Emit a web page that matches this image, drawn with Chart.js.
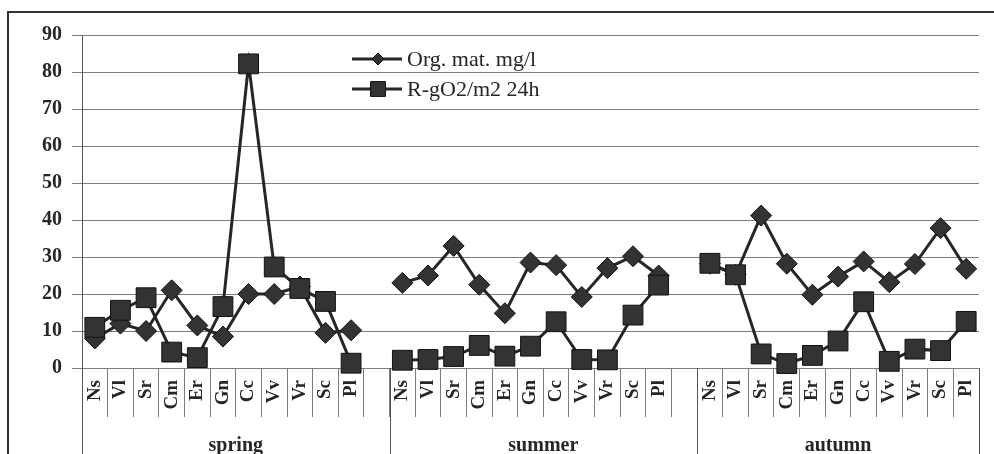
<!DOCTYPE html>
<html>
<head>
<meta charset="utf-8">
<script src="https://cdn.jsdelivr.net/npm/chart.js@4.4.1/dist/chart.umd.min.js"></script>
<style>
  html, body { margin: 0; padding: 0; background: #fff; }
  #wrap { width: 994px; height: 454px; position: relative; }
</style>
</head>
<body>
<div id="wrap"><canvas id="chart"></canvas></div>
<script>
// Sites sampled in every season
const sites = ['Ns', 'Vl', 'Sr', 'Cm', 'Er', 'Gn', 'Cc', 'Vv', 'Vr', 'Sc', 'Pl'];
const seasons = ['spring', 'summer', 'autumn'];
const yTicks = [0, 10, 20, 30, 40, 50, 60, 70, 80, 90];

// Org. mat. mg/l
const orgSpring = [8, 12, 10, 21, 11.5, 8.5, 20, 20, 22, 9.5, 10.2];
const orgSummer = [23, 25, 33, 22.5, 14.8, 28.5, 27.8, 19.2, 27, 30.2, 25];
const orgAutumn = [28.2, 25.2, 41.2, 28.2, 19.8, 24.7, 28.8, 23.2, 28.1, 37.8, 26.8];

// R-gO2/m2 24h
const rSpring = [11, 15.6, 19, 4.3, 2.8, 16.6, 82.2, 27.3, 21.5, 18, 1.3];
const rSummer = [2.1, 2.3, 3.1, 6.1, 3.2, 5.9, 12.5, 2.3, 2.2, 14.3, 22.4];
const rAutumn = [28.3, 25.2, 3.8, 1.2, 3.4, 7.3, 17.9, 1.8, 5.1, 4.7, 12.6];

// join the seasons with one empty slot in between
function joinSeasons(parts, filler) {
    let out = [];
    parts.forEach((p, i) => {
        out = out.concat(p);
        if (i < parts.length - 1) out.push(filler);
    });
    return out;
}

const labels = joinSeasons([sites, sites, sites], '');
const orgData = joinSeasons([orgSpring, orgSummer, orgAutumn], null);
const rData = joinSeasons([rSpring, rSummer, rAutumn], null);

const INK = '#262626';
const GRID = '#7c7c7c';
const SERIF = "'Liberation Serif', 'Times New Roman', serif";

// frame, season separators, season names and legend
const decorations = {
    id: 'decorations',
    beforeDraw(chart) {
        const ctx = chart.ctx;
        ctx.save();
        ctx.strokeStyle = '#333';
        ctx.lineWidth = 2;
        ctx.beginPath();
        ctx.moveTo(8, 454);
        ctx.lineTo(8, 12);
        ctx.lineTo(994, 12);
        ctx.stroke();
        ctx.restore();
    },
    afterDraw(chart) {
        const ctx = chart.ctx;
        const x = chart.scales.x;
        const area = chart.chartArea;
        const bounds = [-0.5, sites.length + 0.5, 2 * sites.length + 1.5, 3 * sites.length + 1.5];

        ctx.save();
        ctx.strokeStyle = '#555';
        ctx.lineWidth = 1;
        bounds.forEach(b => {
            const px = Math.round(x.getPixelForValue(b)) + 0.5;
            ctx.beginPath();
            ctx.moveTo(px, area.bottom);
            ctx.lineTo(px, chart.height);
            ctx.stroke();
        });

        ctx.fillStyle = INK;
        ctx.font = 'bold 20px ' + SERIF;
        ctx.textAlign = 'center';
        ctx.textBaseline = 'middle';
        seasons.forEach((s, i) => {
            const left = x.getPixelForValue(bounds[i]);
            const right = x.getPixelForValue(bounds[i + 1]);
            ctx.fillText(s, (left + right) / 2, 446);
        });

        // legend: line with marker, then the name
        const items = [
            { text: 'Org. mat. mg/l', style: 'rectRot', r: 6, y: 59 },
            { text: 'R-gO2/m2 24h', style: 'rect', r: 10.5, y: 89 }
        ];
        ctx.font = '22px ' + SERIF;
        ctx.textAlign = 'left';
        items.forEach(it => {
            ctx.strokeStyle = INK;
            ctx.lineWidth = 3;
            ctx.beginPath();
            ctx.moveTo(352, it.y);
            ctx.lineTo(402, it.y);
            ctx.stroke();
            ctx.fillStyle = '#333';
            ctx.strokeStyle = '#111';
            ctx.lineWidth = 1;
            Chart.helpers.drawPoint(ctx, { pointStyle: it.style, radius: it.r, rotation: 0, borderWidth: 1 }, 378, it.y);
            ctx.fillStyle = INK;
            ctx.fillText(it.text, 407, it.y + 1);
        });
        ctx.restore();
    }
};

const ctx = document.getElementById('chart').getContext('2d');
new Chart(ctx, {
    type: 'line',
    data: {
        labels: labels,
        datasets: [
            {
                label: 'Org. mat. mg/l',
                data: orgData,
                order: 1,
                borderColor: INK,
                borderWidth: 3,
                pointStyle: 'rectRot',
                pointRadius: 10.5,
                pointBackgroundColor: '#333',
                pointBorderColor: '#111',
                pointBorderWidth: 1,
                spanGaps: false,
                clip: false
            },
            {
                label: 'R-gO2/m2 24h',
                data: rData,
                order: 0,
                borderColor: INK,
                borderWidth: 3,
                pointStyle: 'rect',
                pointRadius: 14,
                pointBackgroundColor: '#333',
                pointBorderColor: '#111',
                pointBorderWidth: 1,
                spanGaps: false,
                clip: false
            }
        ]
    },
    options: {
        responsive: true,
        maintainAspectRatio: false,
        animation: false,
        layout: { padding: { top: 35, right: 15, left: 0, bottom: 0 } },
        plugins: {
            legend: { display: false },
            tooltip: { enabled: false }
        },
        scales: {
            x: {
                type: 'category',
                offset: true,
                grid: {
                    offset: true,
                    drawOnChartArea: false,
                    drawTicks: true,
                    tickLength: 49,
                    color: GRID
                },
                border: { color: GRID },
                ticks: {
                    autoSkip: false,
                    minRotation: 90,
                    maxRotation: 90,
                    padding: -37,
                    color: INK,
                    font: { family: SERIF, size: 19, weight: 'bold' }
                },
                afterFit(axis) { axis.height = 86; }
            },
            y: {
                min: 0,
                max: 90,
                afterBuildTicks(axis) { axis.ticks = yTicks.map(v => ({ value: v })); },
                grid: { color: GRID, tickLength: 10 },
                border: { color: '#555' },
                ticks: {
                    padding: 10,
                    color: INK,
                    font: { family: SERIF, size: 20, weight: 'bold' }
                },
                afterFit(axis) { axis.width = 82; }
            }
        }
    },
    plugins: [decorations]
});
</script>
</body>
</html>
